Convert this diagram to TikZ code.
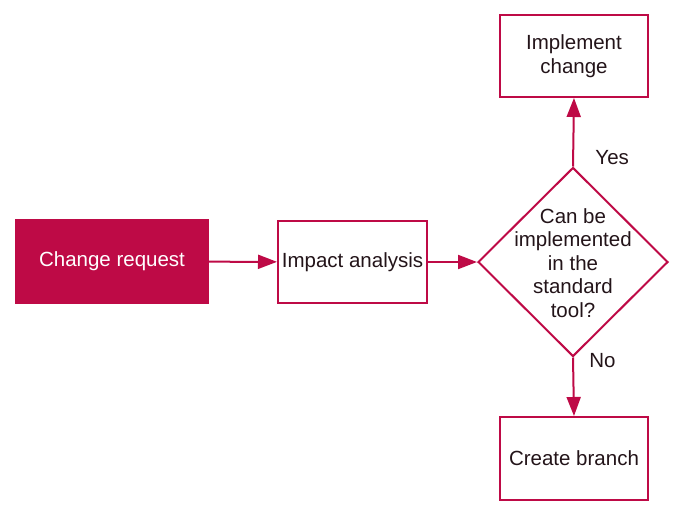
\documentclass[tikz,border=0pt]{standalone}
\usepackage{fontspec}
\setmainfont{Liberation Sans}
\usetikzlibrary{shapes.geometric,arrows.meta}
\definecolor{crimson}{RGB}{190,10,70}
\definecolor{inktext}{RGB}{35,20,25}
\begin{document}
\begin{tikzpicture}
    [
    x=1pt,y=1pt,
    every node/.style={text=inktext,font=\fontsize{20.5}{23.5}\selectfont},
    box/.style={draw=crimson,line width=2pt,rectangle,minimum width=148pt,minimum height=82pt,inner sep=2pt,align=center},
    start/.style={box,fill=crimson,text=white,minimum width=192pt,minimum height=83pt},
    decision/.style={draw=crimson,line width=2pt,diamond,minimum width=190pt,minimum height=189pt,inner sep=0pt},
    flow/.style={draw=crimson,line width=2pt,-{Triangle[length=19pt,width=14pt]}},
    ]
    \useasboundingbox (0,0) rectangle (681,-520);
    \node[start] (request) at (112,-261.5) {Change request};
    \node[box,minimum width=149pt] (impact) at (352.5,-262) {Impact analysis};
    \node[decision] (check) at (573,-262) {};
    \node[align=center] (checktext) at (573,-263) {Can be\\implemented\\in the\\standard\\tool?};
    \node[box] (implement) at (574,-56) {Implement\\change};
    \node[box,minimum height=83pt] (branch) at (574,-458.5) {Create branch};
    % connectors
    \draw[flow] (request) -- (impact);
    \draw[flow] (impact) -- (check.west);
    \draw[flow] (check.north) -- (implement.south) node[pos=0.13,right=18pt] {Yes};
    \draw[flow] (check.south) -- (branch.north) node[pos=0.05,right=12pt] {No};
\end{tikzpicture}
\end{document}
